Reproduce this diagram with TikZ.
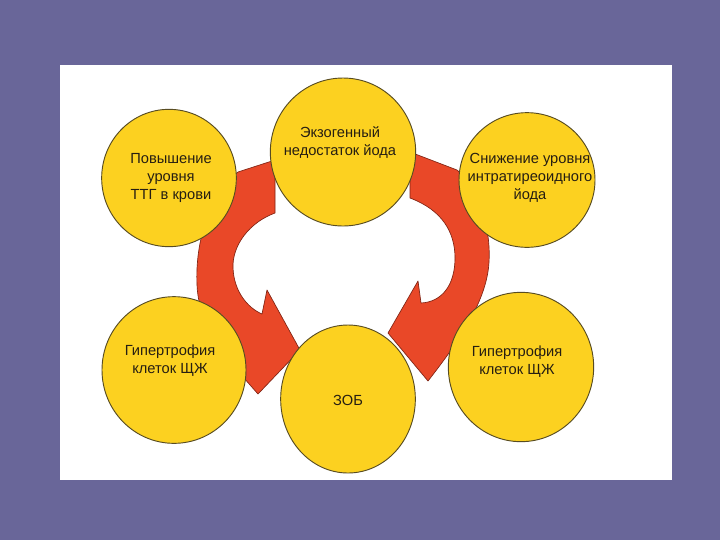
\documentclass[tikz,border=0pt]{standalone}
\usepackage{fontspec}
\setmainfont{Liberation Sans}
\usetikzlibrary{shapes.geometric}

\begin{document}
\begin{tikzpicture}[x=0.75pt,y=0.75pt,yscale=-1,xscale=1,
		bubble/.style={ellipse, draw={rgb, 255:red, 88; green, 76; blue, 34 }, line width=0.7pt, fill={rgb, 255:red, 252; green, 209; blue, 32 }, inner sep=0pt},
		caption/.style={align=center, inner sep=0.75pt, font=\fontsize{11}{13.5}\selectfont, text={rgb, 255:red, 38; green, 30; blue, 18 }},
		bendarrow/.style={fill={rgb, 255:red, 233; green, 72; blue, 40 }, draw={rgb, 255:red, 128; green, 36; blue, 20 }, line width=0.5pt, line join=round}]

			%Background
			\fill [color={rgb, 255:red, 105; green, 102; blue, 153 }] (0,0) rectangle (720,540) ;
			\fill [color={rgb, 255:red, 255; green, 255; blue, 255 }] (60,65) rectangle (672,480) ;

			%Shape: Curved Arrow, left
			\draw [bendarrow] (238,172) -- (275,160) -- (275,213) .. controls (250,222) and (232,245) .. (233,268) .. controls (234,292) and (248,308) .. (262,314) -- (267,290) -- (300,350) -- (258,394) .. controls (230,362) and (199,330) .. (197,285) .. controls (195,240) and (210,195) .. (238,172) -- cycle ;
			%Shape: Curved Arrow, right
			\draw [bendarrow] (410,152) -- (457,170) .. controls (480,190) and (491,230) .. (489,262) .. controls (487,300) and (460,340) .. (428,381) -- (388,333) -- (418,281) -- (421,303) .. controls (442,302) and (455,285) .. (455,258) .. controls (455,232) and (442,210) .. (410,198) -- cycle ;

			%Shape: Circle
			\node [bubble, minimum width=101pt, minimum height=103pt] (ttg) at (169,178) {};
			%Shape: Circle
			\node [bubble, minimum width=109pt, minimum height=111pt] (exo) at (343,152) {};
			%Shape: Circle
			\node [bubble, minimum width=102pt, minimum height=101pt] (intra) at (527,180) {};
			%Shape: Circle
			\node [bubble, minimum width=108pt, minimum height=110pt] (hyperl) at (174,370) {};
			%Shape: Circle
			\node [bubble, minimum width=101pt, minimum height=111pt] (goiter) at (348,399) {};
			%Shape: Circle
			\node [bubble, minimum width=109pt, minimum height=112pt] (hyperr) at (521,367) {};

			% Text Node
			\node [caption] (ttgtext) at (171,178) {Повышение\\уровня\\ТТГ в крови};
			% Text Node
			\node [caption] (exotext) at (340,143) {Экзогенный\\недостаток йода};
			% Text Node
			\node [caption] (intratext) at (530,178) {Снижение уровня\\интратиреоидного\\йода};
			% Text Node
			\node [caption] (hyperltext) at (170,361) {Гипертрофия\\клеток ЩЖ};
			% Text Node
			\node [caption] (goitertext) at (348,400) {ЗОБ};
			% Text Node
			\node [caption] (hyperrtext) at (517,362) {Гипертрофия\\клеток ЩЖ};

		\end{tikzpicture}
\end{document}
